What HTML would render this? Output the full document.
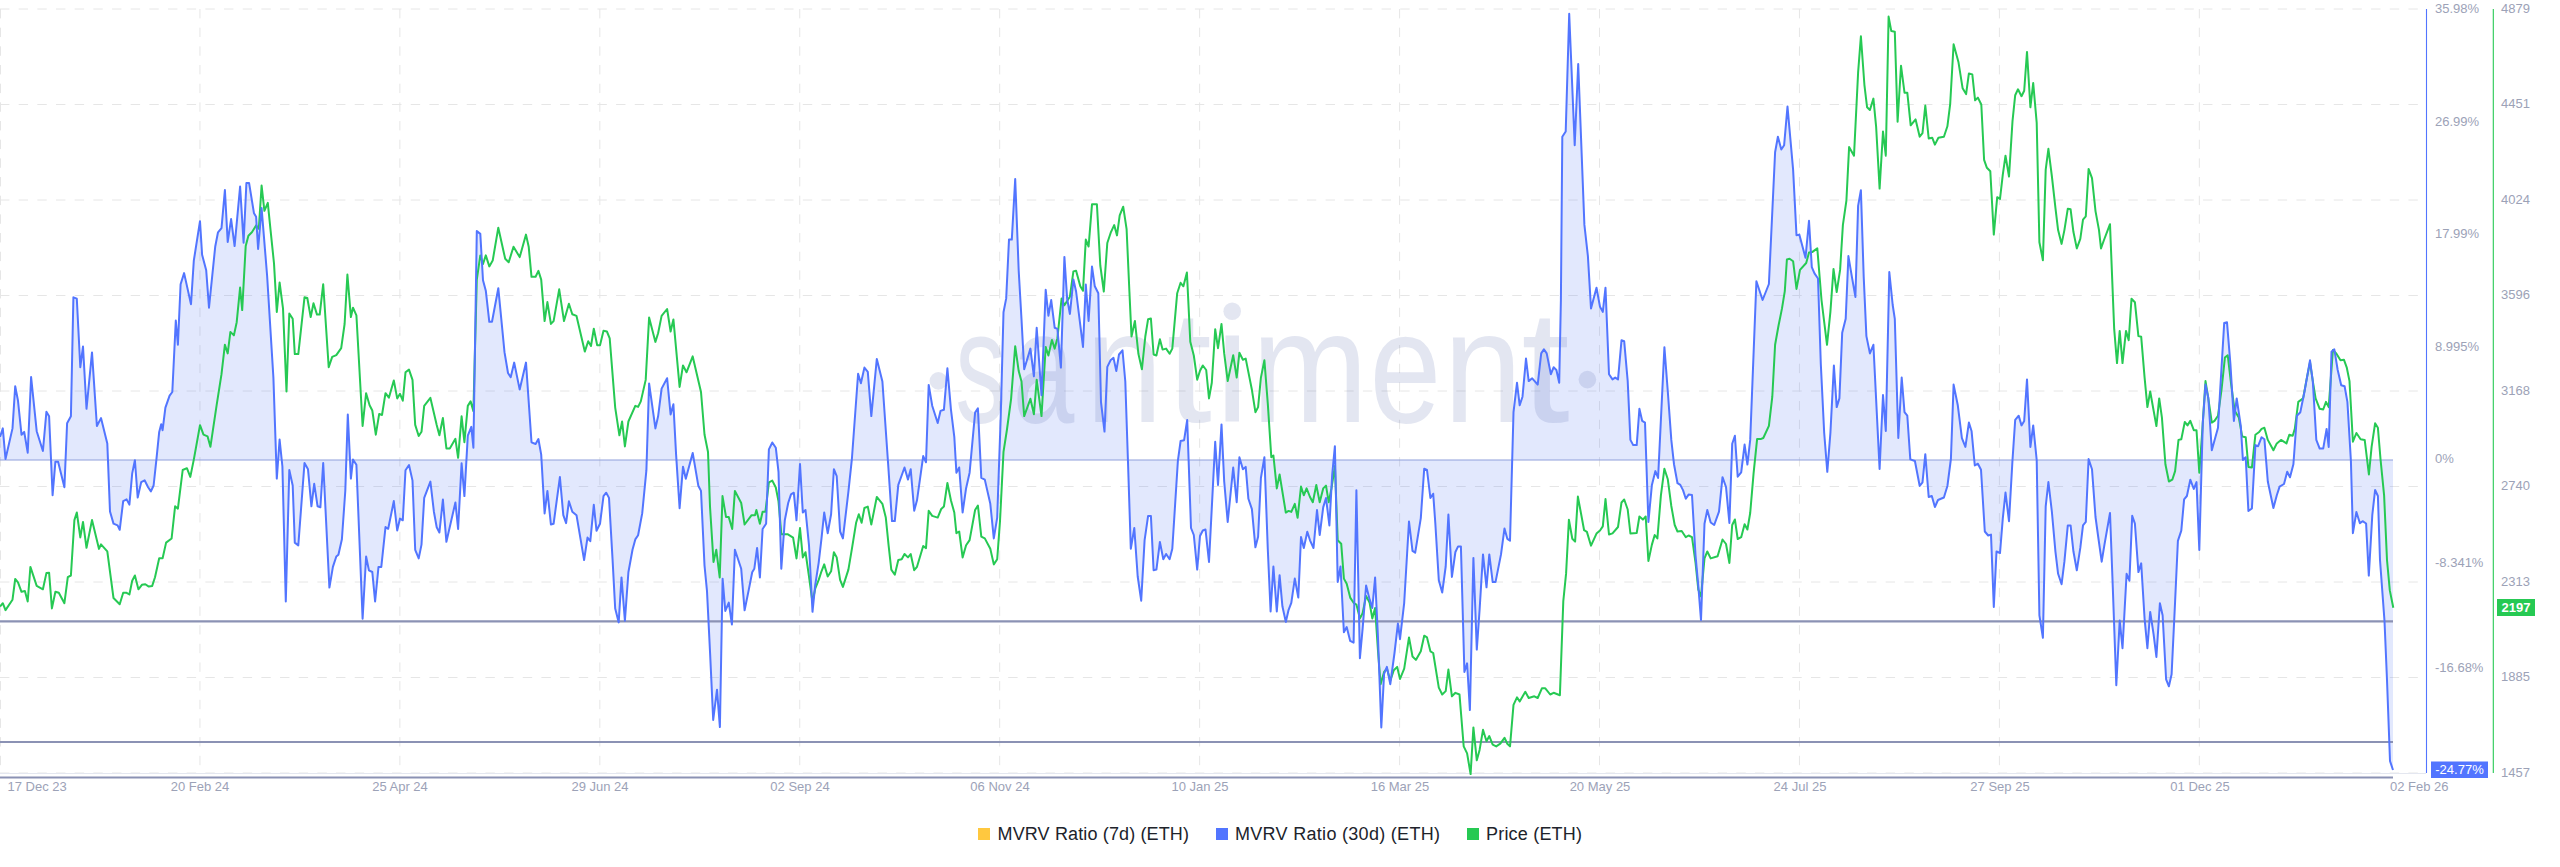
<!DOCTYPE html>
<html><head><meta charset="utf-8"><style>
html,body{margin:0;padding:0;background:#fff;width:2560px;height:867px;overflow:hidden}
svg{display:block}
</style></head><body>
<svg width="2560" height="867" viewBox="0 0 2560 867">
<line x1="0" y1="9.0" x2="2418" y2="9.0" stroke="#e6e6e6" stroke-width="1" stroke-dasharray="9.4 9.27"/>
<line x1="0" y1="104.5" x2="2418" y2="104.5" stroke="#e6e6e6" stroke-width="1" stroke-dasharray="9.4 9.27"/>
<line x1="0" y1="200.0" x2="2418" y2="200.0" stroke="#e6e6e6" stroke-width="1" stroke-dasharray="9.4 9.27"/>
<line x1="0" y1="295.5" x2="2418" y2="295.5" stroke="#e6e6e6" stroke-width="1" stroke-dasharray="9.4 9.27"/>
<line x1="0" y1="391.0" x2="2418" y2="391.0" stroke="#e6e6e6" stroke-width="1" stroke-dasharray="9.4 9.27"/>
<line x1="0" y1="486.5" x2="2418" y2="486.5" stroke="#e6e6e6" stroke-width="1" stroke-dasharray="9.4 9.27"/>
<line x1="0" y1="582.0" x2="2418" y2="582.0" stroke="#e6e6e6" stroke-width="1" stroke-dasharray="9.4 9.27"/>
<line x1="0" y1="677.5" x2="2418" y2="677.5" stroke="#e6e6e6" stroke-width="1" stroke-dasharray="9.4 9.27"/>
<line x1="0" y1="773.0" x2="2418" y2="773.0" stroke="#e6e6e6" stroke-width="1" stroke-dasharray="9.4 9.27"/>
<line x1="0.5" y1="9" x2="0.5" y2="773" stroke="#e6e6e6" stroke-width="1" stroke-dasharray="9.4 9.27"/>
<line x1="199.94" y1="9" x2="199.94" y2="773" stroke="#e6e6e6" stroke-width="1" stroke-dasharray="9.4 9.27"/>
<line x1="399.88" y1="9" x2="399.88" y2="773" stroke="#e6e6e6" stroke-width="1" stroke-dasharray="9.4 9.27"/>
<line x1="599.8199999999999" y1="9" x2="599.8199999999999" y2="773" stroke="#e6e6e6" stroke-width="1" stroke-dasharray="9.4 9.27"/>
<line x1="799.76" y1="9" x2="799.76" y2="773" stroke="#e6e6e6" stroke-width="1" stroke-dasharray="9.4 9.27"/>
<line x1="999.7" y1="9" x2="999.7" y2="773" stroke="#e6e6e6" stroke-width="1" stroke-dasharray="9.4 9.27"/>
<line x1="1199.6399999999999" y1="9" x2="1199.6399999999999" y2="773" stroke="#e6e6e6" stroke-width="1" stroke-dasharray="9.4 9.27"/>
<line x1="1399.58" y1="9" x2="1399.58" y2="773" stroke="#e6e6e6" stroke-width="1" stroke-dasharray="9.4 9.27"/>
<line x1="1599.52" y1="9" x2="1599.52" y2="773" stroke="#e6e6e6" stroke-width="1" stroke-dasharray="9.4 9.27"/>
<line x1="1799.46" y1="9" x2="1799.46" y2="773" stroke="#e6e6e6" stroke-width="1" stroke-dasharray="9.4 9.27"/>
<line x1="1999.4" y1="9" x2="1999.4" y2="773" stroke="#e6e6e6" stroke-width="1" stroke-dasharray="9.4 9.27"/>
<line x1="2199.34" y1="9" x2="2199.34" y2="773" stroke="#e6e6e6" stroke-width="1" stroke-dasharray="9.4 9.27"/>
<path d="M0.0,460 L0.0,437.0 L2.8,428.4 L5.5,459.0 L12.5,428.4 L15.2,386.2 L18.0,400.8 L21.5,434.7 L24.2,431.9 L27.7,452.7 L31.1,377.0 L36.7,431.2 L42.9,451.0 L46.4,411.8 L49.1,416.3 L52.6,495.2 L55.4,461.7 L58.1,461.7 L64.4,487.3 L67.1,423.3 L70.9,416.3 L73.4,297.3 L76.8,298.7 L80.3,367.2 L83.0,346.5 L86.5,408.8 L92.0,352.4 L96.9,426.0 L101.0,418.1 L107.3,443.4 L110.0,511.5 L113.5,523.6 L117.6,525.3 L119.7,529.8 L123.2,501.1 L126.6,499.4 L129.4,504.6 L132.2,473.4 L134.9,460.3 L137.7,497.6 L141.2,482.1 L144.6,480.3 L148.1,487.3 L150.9,491.4 L153.6,485.5 L156.4,459.6 L159.2,431.9 L161.2,424.3 L162.6,430.2 L165.4,407.7 L169.6,395.6 L172.3,392.0 L175.8,320.5 L177.9,344.7 L180.6,284.2 L184.1,273.1 L191.0,304.3 L193.8,260.7 L200.0,221.2 L202.1,254.8 L206.2,270.3 L209.0,307.7 L215.2,246.8 L218.0,232.3 L221.5,228.1 L224.9,190.0 L227.7,242.0 L231.1,219.1 L234.6,246.1 L240.1,186.6 L243.6,242.7 L246.4,183.1 L249.1,183.1 L254.0,213.3 L256.1,216.7 L258.1,248.9 L261.6,208.1 L267.1,275.5 L273.4,377.6 L276.8,478.6 L279.6,439.5 L282.4,466.5 L285.8,601.5 L289.3,470.0 L292.7,485.5 L294.8,542.6 L298.3,545.4 L304.5,463.0 L308.0,469.3 L311.4,506.3 L314.2,483.8 L317.6,506.3 L320.4,507.3 L323.2,463.0 L329.4,587.6 L332.9,566.9 L336.3,556.5 L338.4,554.7 L341.9,539.2 L345.3,490.7 L347.8,414.6 L350.9,478.6 L353.0,459.6 L356.4,464.8 L362.6,618.8 L366.1,556.5 L368.9,570.3 L372.3,572.0 L375.1,601.5 L378.5,566.9 L381.3,566.9 L385.5,527.1 L388.2,528.8 L393.8,501.1 L397.2,530.5 L400.0,518.6 L402.8,520.3 L405.5,470.2 L409.0,465.0 L412.5,480.6 L415.2,549.8 L418.7,558.4 L421.5,544.6 L424.2,497.9 L430.4,481.6 L433.9,511.7 L436.7,527.3 L439.4,532.5 L442.9,499.6 L446.4,541.8 L455.4,502.4 L458.1,529.0 L461.6,463.3 L464.4,496.1 L467.8,435.6 L471.3,426.9 L473.4,447.7 L476.8,231.1 L480.3,233.9 L483.0,280.3 L485.8,290.7 L489.3,321.8 L492.0,321.8 L498.3,288.2 L504.5,352.2 L508.0,373.0 L510.7,377.2 L514.2,362.6 L519.7,389.6 L526.0,362.6 L531.5,442.3 L535.6,444.0 L538.4,439.0 L541.2,454.6 L544.6,513.4 L547.4,490.9 L550.9,524.5 L553.6,523.8 L559.9,477.1 L563.3,515.2 L566.1,523.1 L568.9,501.3 L572.3,511.7 L576.5,515.2 L580.6,539.4 L584.1,560.1 L587.5,537.6 L590.3,541.1 L593.8,504.8 L596.5,530.7 L600.0,523.8 L603.5,496.1 L606.2,492.7 L609.0,497.9 L612.5,558.4 L615.2,608.6 L618.7,622.4 L621.5,577.4 L624.9,620.7 L628.4,572.2 L632.5,549.8 L635.3,539.4 L638.1,535.2 L642.2,513.4 L646.4,470.2 L649.1,383.4 L655.4,428.4 L658.1,416.3 L661.6,388.6 L667.1,378.2 L670.6,414.5 L673.4,404.2 L676.1,454.6 L679.6,508.2 L683.0,466.7 L685.8,478.8 L692.7,452.9 L698.3,485.7 L701.0,490.9 L704.5,565.3 L707.0,591.1 L710.1,653.4 L713.2,719.9 L717.0,689.7 L719.9,727.1 L722.6,578.7 L725.3,610.9 L728.8,602.6 L731.9,624.4 L734.9,549.8 L741.2,568.8 L744.6,610.3 L748.8,589.6 L752.2,572.2 L754.3,568.8 L757.1,548.0 L759.9,577.4 L762.6,529.0 L766.1,523.8 L768.9,449.4 L772.3,442.5 L775.8,447.7 L778.5,471.9 L781.3,568.8 L784.8,520.3 L788.2,503.0 L791.0,494.4 L793.8,492.7 L796.5,520.3 L800.0,464.0 L802.8,512.5 L805.5,510.0 L809.0,545.3 L812.5,611.8 L815.2,585.1 L818.7,562.6 L821.5,538.4 L824.2,512.5 L827.7,533.2 L831.1,514.2 L833.9,469.2 L836.7,476.1 L840.1,531.5 L842.9,538.4 L848.4,491.7 L851.9,458.8 L858.1,373.8 L860.9,383.2 L864.4,367.6 L867.8,371.8 L871.3,416.1 L876.8,359.0 L882.4,381.5 L888.2,465.0 L892.0,521.1 L894.8,521.1 L898.3,484.8 L904.5,467.5 L908.0,479.6 L910.7,469.2 L914.2,510.7 L917.0,500.3 L923.2,456.1 L926.0,462.3 L928.7,384.9 L932.2,405.7 L937.7,423.0 L940.5,410.9 L943.9,409.8 L947.4,368.3 L950.9,409.1 L954.3,436.8 L956.4,472.7 L959.2,467.5 L962.6,512.5 L966.1,488.2 L969.6,472.7 L975.1,412.6 L977.9,408.4 L981.3,477.9 L984.8,479.6 L990.3,503.8 L993.8,538.4 L997.2,517.6 L1000.7,417.3 L1003.5,312.2 L1006.2,298.4 L1009.0,239.6 L1011.8,239.6 L1015.2,179.0 L1018.7,270.7 L1021.5,319.2 L1024.2,369.3 L1030.4,348.6 L1033.9,376.3 L1036.7,327.8 L1041.5,395.3 L1045.7,289.8 L1048.4,315.7 L1051.2,300.1 L1054.7,327.8 L1057.4,328.9 L1060.9,367.6 L1064.4,256.9 L1067.1,298.4 L1069.9,314.0 L1073.4,279.4 L1076.1,291.5 L1083.0,346.9 L1085.8,284.6 L1088.6,320.9 L1092.0,266.6 L1094.8,286.3 L1098.3,293.2 L1101.0,402.2 L1104.5,431.6 L1107.3,366.9 L1110.7,360.0 L1113.5,357.9 L1116.3,371.1 L1119.0,354.5 L1122.5,350.3 L1125.3,381.5 L1128.0,462.3 L1130.8,548.8 L1134.3,528.0 L1137.7,576.5 L1141.2,600.7 L1144.6,540.1 L1148.1,515.9 L1150.9,515.9 L1153.6,570.2 L1156.4,569.6 L1159.9,541.9 L1163.3,559.2 L1166.1,554.0 L1169.6,559.2 L1172.3,548.8 L1177.9,460.6 L1180.6,441.0 L1184.1,440.2 L1187.2,420.0 L1191.0,528.0 L1193.8,535.0 L1197.2,569.6 L1200.0,536.0 L1202.8,530.5 L1205.5,529.5 L1209.0,562.0 L1215.2,441.7 L1218.0,484.9 L1221.5,424.4 L1224.2,481.5 L1227.7,522.0 L1233.2,467.6 L1236.7,502.2 L1239.4,457.2 L1242.9,469.3 L1245.7,466.9 L1248.4,498.8 L1251.9,509.1 L1255.4,547.3 L1258.1,536.8 L1260.9,478.0 L1264.4,457.2 L1267.8,549.2 L1270.6,611.5 L1273.4,566.5 L1276.8,611.5 L1279.6,575.2 L1282.4,606.3 L1285.8,621.9 L1288.6,609.8 L1291.3,602.8 L1294.8,578.6 L1298.3,597.6 L1301.0,537.0 L1303.8,548.0 L1307.3,531.8 L1310.0,540.3 L1313.5,548.0 L1317.0,510.0 L1319.7,535.0 L1323.2,507.4 L1326.0,498.0 L1329.4,525.5 L1332.2,474.5 L1334.9,446.2 L1337.7,582.1 L1340.5,566.5 L1343.9,632.2 L1346.7,627.1 L1350.2,640.9 L1353.6,642.6 L1356.4,490.2 L1359.9,658.2 L1362.6,628.8 L1366.1,585.5 L1369.6,599.4 L1372.3,608.0 L1375.1,577.6 L1377.9,635.7 L1381.3,727.4 L1384.1,673.8 L1386.9,666.9 L1390.3,684.2 L1394.5,653.0 L1397.9,623.6 L1400.0,639.2 L1404.2,602.8 L1409.0,521.5 L1412.5,550.9 L1415.2,552.7 L1420.8,518.1 L1424.2,468.7 L1427.0,470.0 L1430.4,498.0 L1433.2,493.7 L1435.3,523.0 L1438.8,580.3 L1442.2,592.5 L1445.7,566.5 L1448.4,514.6 L1451.9,576.9 L1455.4,552.0 L1458.1,546.4 L1460.9,546.4 L1464.4,672.0 L1467.1,663.4 L1469.9,710.1 L1473.4,557.9 L1476.8,649.6 L1479.6,609.8 L1483.0,554.4 L1486.5,587.3 L1489.3,554.4 L1492.7,582.1 L1495.5,582.1 L1501.0,554.4 L1504.5,528.4 L1507.3,538.8 L1510.0,540.6 L1513.5,412.2 L1517.0,382.8 L1519.7,405.3 L1522.5,396.7 L1526.0,358.6 L1528.7,381.1 L1532.2,378.3 L1537.7,384.6 L1541.2,353.4 L1543.9,349.3 L1546.7,353.4 L1550.9,374.2 L1553.6,367.3 L1556.4,370.0 L1559.2,382.8 L1560.9,300.0 L1562.3,136.7 L1565.7,131.5 L1569.2,13.8 L1574.7,145.3 L1578.2,64.0 L1584.4,224.9 L1587.9,256.1 L1591.0,308.4 L1596.5,287.7 L1600.0,306.7 L1602.8,311.9 L1605.5,287.7 L1609.0,374.2 L1612.5,379.4 L1615.2,377.6 L1618.0,379.4 L1621.5,340.3 L1624.2,341.3 L1627.7,381.1 L1630.4,439.9 L1633.2,445.1 L1636.7,445.1 L1639.4,408.8 L1642.2,420.9 L1645.0,422.6 L1648.4,521.9 L1651.9,484.9 L1655.4,471.1 L1658.1,478.0 L1664.4,347.2 L1667.8,391.5 L1671.3,439.9 L1674.0,464.2 L1677.5,483.2 L1680.3,484.9 L1683.0,490.1 L1685.8,498.8 L1688.6,494.6 L1692.0,495.0 L1695.5,555.0 L1698.3,586.0 L1701.0,620.0 L1704.5,523.8 L1707.3,510.0 L1710.7,522.5 L1714.2,525.0 L1719.0,511.7 L1722.5,477.2 L1726.0,487.0 L1729.4,523.0 L1732.2,443.8 L1734.9,435.7 L1737.7,476.7 L1741.2,472.3 L1744.6,444.6 L1747.4,464.6 L1750.2,439.9 L1756.4,281.2 L1762.6,300.0 L1768.9,284.0 L1775.1,152.2 L1777.9,136.7 L1781.3,149.5 L1784.1,145.3 L1787.5,106.6 L1793.1,169.6 L1796.5,235.3 L1799.3,234.6 L1805.5,257.8 L1809.0,220.8 L1811.8,267.1 L1814.5,273.4 L1818.0,278.5 L1820.8,363.8 L1824.2,433.0 L1827.3,471.8 L1830.4,433.0 L1833.9,365.5 L1836.7,407.1 L1839.4,398.4 L1842.2,332.7 L1845.7,318.8 L1848.4,256.1 L1851.9,276.8 L1855.4,296.9 L1858.1,205.9 L1860.9,190.3 L1863.7,276.8 L1866.4,336.1 L1869.9,353.4 L1873.4,344.8 L1879.6,469.0 L1883.0,395.0 L1885.8,431.0 L1889.3,272.0 L1892.7,305.0 L1894.8,318.8 L1898.3,438.0 L1901.7,377.6 L1904.5,412.2 L1907.3,415.7 L1910.3,459.4 L1914.9,461.0 L1919.7,486.0 L1922.5,482.4 L1925.3,454.2 L1928.7,497.0 L1931.8,496.0 L1934.9,507.0 L1938.0,500.0 L1943.9,497.5 L1947.4,486.0 L1950.9,459.0 L1953.6,384.6 L1957.8,405.3 L1961.9,438.2 L1965.4,446.9 L1968.9,422.6 L1971.6,431.3 L1974.8,465.5 L1977.9,463.7 L1981.0,469.8 L1984.8,531.5 L1988.2,535.5 L1991.0,534.6 L1993.8,606.9 L1996.5,551.5 L2000.0,553.0 L2002.8,518.4 L2005.5,492.5 L2009.0,521.2 L2012.5,460.0 L2015.2,419.9 L2018.7,415.7 L2021.5,425.4 L2024.2,420.9 L2027.0,379.4 L2030.4,446.9 L2033.2,425.4 L2036.7,460.0 L2039.4,615.3 L2042.9,637.8 L2045.7,506.3 L2048.4,482.0 L2051.9,512.0 L2055.4,551.3 L2058.1,573.8 L2061.6,584.2 L2064.4,561.7 L2067.8,525.4 L2070.6,525.4 L2073.4,551.3 L2076.8,570.3 L2080.3,547.9 L2083.0,525.4 L2085.8,521.9 L2088.6,459.0 L2092.0,469.3 L2095.5,517.0 L2098.3,537.5 L2101.7,561.7 L2104.5,544.4 L2110.0,513.0 L2112.8,587.6 L2116.3,685.2 L2119.7,620.5 L2122.5,648.2 L2126.6,573.8 L2129.4,580.7 L2132.2,515.7 L2134.9,523.6 L2138.4,572.1 L2141.2,563.4 L2144.6,618.8 L2147.4,648.2 L2150.2,611.9 L2153.6,634.4 L2156.4,656.9 L2159.9,603.2 L2162.6,615.3 L2166.1,679.3 L2168.9,686.3 L2171.6,674.2 L2175.1,601.5 L2177.9,540.9 L2181.3,530.6 L2184.1,499.4 L2186.9,496.0 L2190.3,479.7 L2193.8,489.0 L2196.5,482.1 L2199.3,550.0 L2202.8,422.6 L2205.5,384.6 L2208.3,397.7 L2211.8,450.3 L2218.0,427.8 L2220.1,391.5 L2224.2,323.0 L2227.0,322.3 L2230.4,363.8 L2233.9,420.9 L2236.7,398.4 L2240.8,426.1 L2242.9,460.0 L2245.7,457.2 L2248.4,511.0 L2251.9,508.5 L2255.4,445.1 L2258.1,446.2 L2261.6,437.2 L2264.4,439.2 L2267.8,481.5 L2273.4,508.0 L2276.8,495.3 L2279.6,486.6 L2284.0,484.0 L2287.2,471.8 L2290.0,477.3 L2293.4,464.2 L2296.9,415.7 L2300.3,412.2 L2304.5,391.5 L2310.0,360.3 L2312.8,381.1 L2316.3,439.9 L2319.7,448.6 L2323.2,448.6 L2326.6,428.9 L2328.7,446.9 L2331.5,351.7 L2334.3,349.3 L2337.7,370.0 L2341.2,385.3 L2344.6,386.3 L2347.4,401.9 L2350.9,460.7 L2352.9,533.2 L2356.4,512.0 L2359.9,523.3 L2362.6,521.2 L2366.1,523.5 L2368.8,575.6 L2372.3,515.0 L2375.1,490.0 L2377.9,496.0 L2380.0,560.0 L2384.5,621.0 L2387.0,680.0 L2390.0,761.0 L2393.0,770.0 L2393.0,460 Z" fill="rgba(75,110,240,0.16)" stroke="none"/>
<text transform="translate(955.17,421.5) scale(0.6371,1)" x="0" y="0" style="font-family:'Liberation Sans',sans-serif;font-size:160.0px;fill:rgba(70,85,160,0.15)">s</text>
<text transform="translate(1012.64,421.5) scale(0.6925,1)" x="0" y="0" style="font-family:'Liberation Sans',sans-serif;font-size:160.0px;fill:rgba(70,85,160,0.15)">a</text>
<text transform="translate(1085.67,421.5) scale(0.8637,1)" x="0" y="0" style="font-family:'Liberation Sans',sans-serif;font-size:160.0px;fill:rgba(70,85,160,0.15)">n</text>
<text transform="translate(1166.50,421.5) scale(1.0188,1)" x="0" y="0" style="font-family:'Liberation Sans',sans-serif;font-size:160.0px;fill:rgba(70,85,160,0.15)">t</text>
<rect x="1225.5" y="335.5" width="13.5" height="86" fill="rgba(70,85,160,0.15)"/>
<circle cx="1232.2" cy="311.2" r="8.8" fill="rgba(70,85,160,0.15)"/>
<text transform="translate(1251.87,421.5) scale(0.8731,1)" x="0" y="0" style="font-family:'Liberation Sans',sans-serif;font-size:160.0px;fill:rgba(70,85,160,0.15)">m</text>
<text transform="translate(1369.46,421.5) scale(0.8070,1)" x="0" y="0" style="font-family:'Liberation Sans',sans-serif;font-size:160.0px;fill:rgba(70,85,160,0.15)">e</text>
<text transform="translate(1443.43,421.5) scale(0.8859,1)" x="0" y="0" style="font-family:'Liberation Sans',sans-serif;font-size:160.0px;fill:rgba(70,85,160,0.15)">n</text>
<text transform="translate(1521.26,421.5) scale(1.0915,1)" x="0" y="0" style="font-family:'Liberation Sans',sans-serif;font-size:160.0px;fill:rgba(70,85,160,0.15)">t</text>
<circle cx="938.4" cy="380.9" r="8.8" fill="rgba(70,85,160,0.15)"/><circle cx="1587.4" cy="379.6" r="8.8" fill="rgba(70,85,160,0.15)"/>
<line x1="0" y1="460" x2="2393" y2="460" stroke="#8fa0dc" stroke-width="1.2"/>
<line x1="0" y1="621.3" x2="2393" y2="621.3" stroke="#8b92b4" stroke-width="2.2"/>
<line x1="0" y1="742" x2="2393" y2="742" stroke="#8b92b4" stroke-width="2.2"/>
<line x1="0" y1="777.5" x2="2393" y2="777.5" stroke="#8b92b4" stroke-width="2.2"/>
<line x1="0" y1="773.5" x2="2426" y2="773.5" stroke="#e4e7f0" stroke-width="1"/>
<path d="M0.0,606.6 L2.8,603.2 L5.5,610.1 L12.5,599.7 L15.2,579.0 L18.0,582.4 L21.5,591.8 L24.9,591.1 L27.7,601.5 L30.4,566.9 L36.7,585.9 L42.9,589.3 L46.4,573.1 L49.1,572.7 L51.9,608.4 L55.4,591.8 L58.8,592.8 L64.4,603.2 L67.8,577.2 L70.9,575.5 L74.4,520.1 L76.8,512.5 L80.3,537.4 L83.0,521.9 L86.5,547.8 L92.0,520.1 L99.0,548.9 L101.0,544.4 L107.3,551.3 L113.5,598.0 L119.7,604.2 L123.2,592.8 L126.6,592.8 L129.4,594.5 L132.2,580.7 L134.9,575.5 L138.4,589.3 L141.9,584.8 L145.3,584.2 L148.8,586.6 L152.2,585.9 L155.0,577.2 L159.2,558.2 L162.6,558.2 L166.1,542.6 L171.6,538.5 L175.1,506.3 L177.9,508.7 L182.7,470.0 L186.9,468.2 L190.3,476.9 L193.8,459.6 L200.0,425.2 L203.5,434.7 L207.6,436.4 L210.4,446.8 L216.6,405.3 L221.5,374.2 L224.9,344.7 L227.7,353.4 L230.4,331.9 L233.9,335.4 L236.7,322.2 L240.1,287.6 L242.2,310.1 L245.7,246.1 L248.4,235.7 L251.9,232.3 L256.1,225.4 L258.8,228.8 L261.6,185.6 L264.4,210.8 L267.8,202.9 L270.6,230.6 L274.0,263.4 L276.8,311.9 L279.6,282.5 L283.0,308.4 L286.5,391.5 L289.3,313.6 L292.7,318.8 L294.8,354.1 L298.3,354.1 L304.5,297.3 L307.3,298.0 L310.7,317.1 L313.5,303.2 L317.0,314.6 L319.7,314.6 L323.2,284.2 L328.7,367.2 L332.2,356.9 L336.3,355.1 L341.2,348.2 L344.6,324.0 L347.4,274.5 L350.9,317.1 L353.0,307.7 L356.4,315.3 L362.6,426.0 L366.1,393.2 L369.6,405.3 L372.3,410.5 L375.8,434.7 L379.2,413.9 L382.0,415.0 L385.5,393.2 L388.9,397.7 L393.8,380.4 L397.2,398.4 L400.0,393.8 L402.8,400.7 L405.5,372.3 L409.0,369.6 L412.5,379.9 L415.2,424.9 L418.7,436.0 L421.5,431.8 L424.2,405.9 L430.4,397.9 L436.7,424.9 L439.4,435.3 L442.9,418.0 L446.4,448.4 L449.8,448.4 L455.4,438.8 L458.1,457.8 L461.6,416.3 L464.4,442.2 L467.8,405.9 L470.6,401.4 L473.4,411.1 L476.8,279.6 L480.3,255.4 L483.0,264.0 L485.8,255.4 L489.3,266.4 L492.7,260.6 L498.3,227.7 L505.2,258.8 L508.7,262.3 L513.5,246.7 L519.7,257.1 L526.0,234.6 L528.7,246.7 L531.5,276.8 L535.6,276.8 L538.4,270.9 L541.2,279.6 L544.6,321.1 L547.4,302.1 L550.9,323.9 L553.6,321.1 L559.2,289.3 L564.0,321.1 L568.9,303.8 L572.3,314.2 L576.5,315.9 L584.8,351.6 L588.2,341.2 L591.0,346.0 L593.8,328.7 L597.2,345.3 L600.0,345.3 L603.5,330.8 L606.9,331.5 L609.7,338.4 L615.2,407.6 L619.4,435.3 L622.1,421.5 L624.9,446.4 L628.4,421.5 L635.3,405.9 L638.1,406.9 L640.8,401.4 L645.7,379.9 L649.1,317.6 L655.4,341.9 L658.1,333.2 L661.6,315.9 L667.1,309.0 L670.6,331.5 L673.4,319.4 L679.6,386.9 L683.0,365.4 L686.5,372.3 L692.7,356.4 L701.0,392.0 L704.5,434.5 L708.0,452.0 L710.0,506.5 L713.5,561.9 L716.3,549.8 L719.7,577.4 L722.5,496.1 L726.0,516.9 L728.7,516.9 L732.2,529.0 L734.9,490.9 L741.2,503.0 L744.6,524.5 L751.6,515.2 L755.0,515.2 L756.4,510.0 L759.9,523.8 L762.6,511.7 L765.4,511.7 L768.9,482.3 L772.3,480.6 L775.8,487.5 L778.5,501.3 L781.3,534.2 L787.5,534.2 L793.1,537.6 L796.5,558.4 L800.0,528.0 L802.8,557.4 L805.5,552.2 L809.0,576.5 L812.5,602.4 L815.2,588.6 L818.7,579.9 L821.5,571.3 L824.2,564.4 L827.7,576.5 L831.1,571.3 L833.9,552.2 L836.7,557.4 L840.1,579.9 L842.9,586.9 L848.4,569.6 L851.9,548.8 L856.1,522.8 L858.8,514.2 L861.6,522.8 L864.4,508.0 L867.8,506.6 L871.3,524.6 L876.8,496.9 L882.4,503.8 L885.8,517.6 L888.6,545.3 L891.3,569.6 L894.8,574.7 L898.3,559.9 L901.7,559.2 L904.5,554.0 L908.0,557.4 L910.7,554.0 L914.2,570.2 L917.0,566.8 L923.2,546.0 L926.0,548.1 L928.7,510.7 L932.2,515.9 L937.7,517.6 L941.2,509.0 L943.9,506.6 L947.4,483.0 L950.9,500.3 L954.3,512.5 L956.4,533.2 L959.2,531.5 L962.6,557.4 L966.1,545.3 L969.6,540.1 L975.1,510.0 L977.9,505.5 L981.3,536.7 L984.8,538.4 L990.3,548.8 L993.8,564.4 L997.2,559.2 L1000.0,521.1 L1003.5,451.9 L1006.9,430.0 L1011.1,398.8 L1015.2,346.2 L1018.7,371.1 L1021.5,381.5 L1024.2,416.1 L1030.4,398.8 L1033.9,414.3 L1036.7,379.7 L1041.5,416.1 L1045.7,346.9 L1048.4,355.5 L1051.9,339.9 L1054.7,348.6 L1057.4,338.2 L1061.6,298.4 L1064.4,305.3 L1069.9,296.7 L1073.4,271.4 L1076.1,270.7 L1080.3,286.3 L1083.0,290.8 L1085.8,239.6 L1088.6,246.5 L1092.0,204.3 L1096.9,204.3 L1100.3,265.5 L1103.8,291.5 L1107.3,243.0 L1110.7,232.7 L1114.2,225.1 L1117.0,235.4 L1119.7,215.4 L1123.2,206.7 L1126.6,229.2 L1129.4,291.5 L1131.5,336.5 L1134.9,320.9 L1138.4,353.8 L1141.9,369.3 L1145.3,336.5 L1148.1,319.2 L1150.9,318.5 L1153.6,354.5 L1156.4,355.5 L1159.9,339.2 L1162.6,349.6 L1166.1,348.6 L1169.6,353.8 L1172.3,348.6 L1177.2,293.2 L1180.6,282.8 L1183.4,286.3 L1186.9,272.5 L1190.3,341.7 L1193.8,355.5 L1197.2,379.7 L1200.0,370.7 L1202.8,365.5 L1206.2,370.0 L1209.0,398.4 L1211.8,382.8 L1215.2,329.2 L1218.0,348.2 L1221.5,324.0 L1224.2,353.4 L1227.7,381.1 L1233.2,355.2 L1236.7,377.6 L1239.4,352.7 L1242.9,359.7 L1245.7,358.6 L1251.9,389.8 L1255.4,412.2 L1258.1,407.1 L1260.9,377.6 L1264.4,360.3 L1267.8,403.6 L1271.3,457.2 L1273.4,455.5 L1276.8,488.4 L1279.6,474.5 L1285.8,512.6 L1288.6,510.9 L1291.3,511.9 L1294.8,503.9 L1297.6,517.8 L1301.0,486.6 L1303.8,495.3 L1306.6,488.4 L1310.0,497.0 L1312.8,502.2 L1316.3,484.9 L1319.7,502.2 L1323.2,488.4 L1326.0,485.6 L1328.7,502.2 L1331.5,488.4 L1334.9,465.9 L1337.7,540.3 L1341.2,543.7 L1343.9,578.6 L1346.7,583.8 L1350.2,597.6 L1353.6,602.8 L1356.4,604.6 L1359.9,618.4 L1362.6,613.2 L1366.1,595.9 L1369.6,602.8 L1372.3,618.4 L1375.1,608.0 L1377.9,649.6 L1380.6,684.2 L1384.1,672.0 L1386.9,668.6 L1390.3,680.7 L1393.8,670.3 L1397.2,666.9 L1400.0,679.0 L1404.2,668.6 L1409.0,637.4 L1412.5,656.5 L1415.9,659.9 L1420.8,651.3 L1424.2,635.7 L1427.0,637.4 L1430.4,651.3 L1433.2,653.0 L1438.8,687.6 L1442.2,694.5 L1445.7,691.1 L1448.4,669.6 L1451.9,696.3 L1455.4,692.8 L1459.5,694.5 L1463.7,746.4 L1467.1,753.4 L1470.6,774.1 L1473.4,727.4 L1476.8,760.3 L1479.6,749.9 L1483.0,729.8 L1486.5,741.2 L1489.3,736.1 L1492.7,744.7 L1496.2,746.4 L1500.3,743.7 L1504.5,737.8 L1507.3,743.7 L1510.0,746.4 L1513.5,704.9 L1517.0,697.3 L1519.7,701.5 L1525.3,691.8 L1528.7,698.0 L1534.3,696.3 L1537.7,698.0 L1541.9,688.3 L1545.3,688.3 L1550.2,694.5 L1553.6,692.8 L1559.9,695.2 L1563.3,601.1 L1566.1,573.4 L1568.9,519.8 L1572.3,538.8 L1575.1,541.6 L1577.9,496.6 L1584.1,530.2 L1586.9,531.9 L1591.0,545.7 L1596.5,533.6 L1600.0,530.5 L1602.8,526.4 L1605.5,499.0 L1609.0,534.5 L1612.5,533.4 L1618.0,527.0 L1621.5,502.5 L1624.2,499.5 L1627.7,509.5 L1630.4,533.4 L1636.7,533.0 L1639.4,516.5 L1642.9,519.6 L1645.7,516.5 L1648.4,561.0 L1651.9,544.6 L1654.7,535.0 L1657.4,538.4 L1660.9,495.3 L1664.4,468.7 L1667.8,479.3 L1671.3,506.0 L1674.7,525.0 L1677.5,531.5 L1681.7,531.0 L1685.8,537.2 L1688.6,535.5 L1692.0,537.2 L1695.5,562.5 L1698.3,589.6 L1701.0,596.5 L1704.5,558.4 L1707.3,551.5 L1710.7,558.4 L1717.6,556.2 L1722.5,539.5 L1726.0,544.0 L1729.4,563.0 L1732.2,525.0 L1734.9,519.5 L1737.7,539.0 L1741.2,537.2 L1744.6,524.2 L1747.4,529.5 L1750.2,513.0 L1753.6,473.2 L1757.1,439.1 L1760.6,439.1 L1763.3,438.0 L1768.9,425.8 L1772.3,396.7 L1775.1,344.8 L1778.5,325.7 L1782.0,308.4 L1784.8,291.1 L1786.9,259.5 L1789.6,258.8 L1793.1,261.2 L1796.5,288.9 L1800.0,269.9 L1806.2,263.0 L1809.0,252.6 L1812.5,251.9 L1817.3,248.4 L1821.5,300.0 L1827.0,344.8 L1830.4,311.9 L1833.5,269.0 L1836.7,292.0 L1840.1,269.9 L1842.9,224.9 L1846.4,200.7 L1849.1,147.1 L1854.0,155.7 L1858.1,72.7 L1860.9,36.3 L1864.4,84.8 L1867.1,107.3 L1869.9,110.0 L1873.4,98.6 L1876.1,126.3 L1879.6,188.6 L1883.0,131.5 L1885.8,155.7 L1888.6,16.6 L1891.3,31.1 L1894.8,31.8 L1897.6,121.8 L1901.0,65.7 L1904.5,92.7 L1907.3,92.7 L1910.7,125.3 L1915.6,119.4 L1919.7,136.7 L1922.5,133.2 L1925.3,105.5 L1928.7,138.4 L1932.2,137.7 L1934.9,144.6 L1938.4,137.7 L1943.9,136.7 L1947.4,126.3 L1950.2,103.8 L1953.6,44.3 L1958.5,62.3 L1962.6,88.2 L1966.1,94.1 L1968.9,73.4 L1972.3,74.4 L1975.1,100.3 L1977.9,97.6 L1981.3,104.5 L1984.1,159.9 L1986.9,167.8 L1990.3,171.3 L1993.8,234.6 L1997.2,197.2 L2000.0,199.0 L2002.8,174.7 L2005.5,155.7 L2009.0,176.5 L2012.5,121.1 L2015.2,95.2 L2018.0,89.3 L2021.5,96.2 L2024.2,90.7 L2027.0,51.9 L2030.4,107.3 L2033.2,83.0 L2036.7,122.8 L2039.4,242.2 L2042.9,260.2 L2045.7,169.6 L2048.4,148.8 L2051.9,176.5 L2055.4,207.6 L2058.1,230.1 L2061.6,243.9 L2064.4,230.1 L2067.8,208.7 L2070.6,209.3 L2073.4,231.8 L2076.8,248.4 L2080.3,238.8 L2083.0,219.7 L2085.8,216.3 L2088.6,168.9 L2092.0,178.2 L2095.5,211.1 L2099.0,230.1 L2101.0,248.4 L2103.8,240.5 L2110.0,224.2 L2114.2,329.2 L2117.0,363.1 L2119.7,330.9 L2122.5,363.1 L2126.0,330.9 L2128.7,340.3 L2131.5,298.8 L2134.9,302.2 L2138.4,336.1 L2141.2,336.8 L2144.6,377.6 L2147.4,407.1 L2150.2,391.5 L2156.4,426.1 L2159.2,398.4 L2161.9,417.4 L2165.4,464.2 L2168.9,481.5 L2172.3,479.7 L2175.1,471.1 L2178.5,439.9 L2181.3,439.2 L2184.8,421.9 L2187.5,425.4 L2190.3,420.9 L2193.8,430.2 L2196.5,430.2 L2199.3,472.8 L2202.1,433.0 L2205.5,381.1 L2208.3,398.4 L2211.8,422.6 L2214.5,420.9 L2218.0,415.7 L2221.5,389.8 L2224.9,357.6 L2227.7,355.2 L2231.1,383.9 L2234.6,410.5 L2238.8,417.4 L2242.2,436.5 L2245.7,437.2 L2248.4,466.9 L2251.9,467.6 L2255.4,434.7 L2258.8,432.3 L2261.6,428.9 L2264.4,427.8 L2267.8,439.9 L2273.4,450.3 L2276.8,443.4 L2281.0,439.9 L2286.5,443.4 L2289.3,434.7 L2292.7,435.8 L2294.8,428.9 L2298.3,401.9 L2303.1,398.4 L2306.6,379.4 L2310.0,362.1 L2312.8,381.1 L2315.6,398.4 L2319.7,408.8 L2323.2,409.5 L2326.0,401.9 L2328.7,407.1 L2332.9,350.0 L2336.3,353.4 L2340.5,360.3 L2343.9,359.7 L2346.7,367.3 L2349.5,381.1 L2352.9,441.7 L2356.4,433.0 L2360.6,439.2 L2364.7,439.9 L2368.9,474.5 L2371.6,446.9 L2375.1,423.3 L2377.9,427.8 L2380.6,460.0 L2384.1,495.3 L2387.0,560.0 L2389.8,590.4 L2393.3,607.8" fill="none" stroke="#26c953" stroke-width="2" stroke-linejoin="round"/>
<path d="M0.0,437.0 L2.8,428.4 L5.5,459.0 L12.5,428.4 L15.2,386.2 L18.0,400.8 L21.5,434.7 L24.2,431.9 L27.7,452.7 L31.1,377.0 L36.7,431.2 L42.9,451.0 L46.4,411.8 L49.1,416.3 L52.6,495.2 L55.4,461.7 L58.1,461.7 L64.4,487.3 L67.1,423.3 L70.9,416.3 L73.4,297.3 L76.8,298.7 L80.3,367.2 L83.0,346.5 L86.5,408.8 L92.0,352.4 L96.9,426.0 L101.0,418.1 L107.3,443.4 L110.0,511.5 L113.5,523.6 L117.6,525.3 L119.7,529.8 L123.2,501.1 L126.6,499.4 L129.4,504.6 L132.2,473.4 L134.9,460.3 L137.7,497.6 L141.2,482.1 L144.6,480.3 L148.1,487.3 L150.9,491.4 L153.6,485.5 L156.4,459.6 L159.2,431.9 L161.2,424.3 L162.6,430.2 L165.4,407.7 L169.6,395.6 L172.3,392.0 L175.8,320.5 L177.9,344.7 L180.6,284.2 L184.1,273.1 L191.0,304.3 L193.8,260.7 L200.0,221.2 L202.1,254.8 L206.2,270.3 L209.0,307.7 L215.2,246.8 L218.0,232.3 L221.5,228.1 L224.9,190.0 L227.7,242.0 L231.1,219.1 L234.6,246.1 L240.1,186.6 L243.6,242.7 L246.4,183.1 L249.1,183.1 L254.0,213.3 L256.1,216.7 L258.1,248.9 L261.6,208.1 L267.1,275.5 L273.4,377.6 L276.8,478.6 L279.6,439.5 L282.4,466.5 L285.8,601.5 L289.3,470.0 L292.7,485.5 L294.8,542.6 L298.3,545.4 L304.5,463.0 L308.0,469.3 L311.4,506.3 L314.2,483.8 L317.6,506.3 L320.4,507.3 L323.2,463.0 L329.4,587.6 L332.9,566.9 L336.3,556.5 L338.4,554.7 L341.9,539.2 L345.3,490.7 L347.8,414.6 L350.9,478.6 L353.0,459.6 L356.4,464.8 L362.6,618.8 L366.1,556.5 L368.9,570.3 L372.3,572.0 L375.1,601.5 L378.5,566.9 L381.3,566.9 L385.5,527.1 L388.2,528.8 L393.8,501.1 L397.2,530.5 L400.0,518.6 L402.8,520.3 L405.5,470.2 L409.0,465.0 L412.5,480.6 L415.2,549.8 L418.7,558.4 L421.5,544.6 L424.2,497.9 L430.4,481.6 L433.9,511.7 L436.7,527.3 L439.4,532.5 L442.9,499.6 L446.4,541.8 L455.4,502.4 L458.1,529.0 L461.6,463.3 L464.4,496.1 L467.8,435.6 L471.3,426.9 L473.4,447.7 L476.8,231.1 L480.3,233.9 L483.0,280.3 L485.8,290.7 L489.3,321.8 L492.0,321.8 L498.3,288.2 L504.5,352.2 L508.0,373.0 L510.7,377.2 L514.2,362.6 L519.7,389.6 L526.0,362.6 L531.5,442.3 L535.6,444.0 L538.4,439.0 L541.2,454.6 L544.6,513.4 L547.4,490.9 L550.9,524.5 L553.6,523.8 L559.9,477.1 L563.3,515.2 L566.1,523.1 L568.9,501.3 L572.3,511.7 L576.5,515.2 L580.6,539.4 L584.1,560.1 L587.5,537.6 L590.3,541.1 L593.8,504.8 L596.5,530.7 L600.0,523.8 L603.5,496.1 L606.2,492.7 L609.0,497.9 L612.5,558.4 L615.2,608.6 L618.7,622.4 L621.5,577.4 L624.9,620.7 L628.4,572.2 L632.5,549.8 L635.3,539.4 L638.1,535.2 L642.2,513.4 L646.4,470.2 L649.1,383.4 L655.4,428.4 L658.1,416.3 L661.6,388.6 L667.1,378.2 L670.6,414.5 L673.4,404.2 L676.1,454.6 L679.6,508.2 L683.0,466.7 L685.8,478.8 L692.7,452.9 L698.3,485.7 L701.0,490.9 L704.5,565.3 L707.0,591.1 L710.1,653.4 L713.2,719.9 L717.0,689.7 L719.9,727.1 L722.6,578.7 L725.3,610.9 L728.8,602.6 L731.9,624.4 L734.9,549.8 L741.2,568.8 L744.6,610.3 L748.8,589.6 L752.2,572.2 L754.3,568.8 L757.1,548.0 L759.9,577.4 L762.6,529.0 L766.1,523.8 L768.9,449.4 L772.3,442.5 L775.8,447.7 L778.5,471.9 L781.3,568.8 L784.8,520.3 L788.2,503.0 L791.0,494.4 L793.8,492.7 L796.5,520.3 L800.0,464.0 L802.8,512.5 L805.5,510.0 L809.0,545.3 L812.5,611.8 L815.2,585.1 L818.7,562.6 L821.5,538.4 L824.2,512.5 L827.7,533.2 L831.1,514.2 L833.9,469.2 L836.7,476.1 L840.1,531.5 L842.9,538.4 L848.4,491.7 L851.9,458.8 L858.1,373.8 L860.9,383.2 L864.4,367.6 L867.8,371.8 L871.3,416.1 L876.8,359.0 L882.4,381.5 L888.2,465.0 L892.0,521.1 L894.8,521.1 L898.3,484.8 L904.5,467.5 L908.0,479.6 L910.7,469.2 L914.2,510.7 L917.0,500.3 L923.2,456.1 L926.0,462.3 L928.7,384.9 L932.2,405.7 L937.7,423.0 L940.5,410.9 L943.9,409.8 L947.4,368.3 L950.9,409.1 L954.3,436.8 L956.4,472.7 L959.2,467.5 L962.6,512.5 L966.1,488.2 L969.6,472.7 L975.1,412.6 L977.9,408.4 L981.3,477.9 L984.8,479.6 L990.3,503.8 L993.8,538.4 L997.2,517.6 L1000.7,417.3 L1003.5,312.2 L1006.2,298.4 L1009.0,239.6 L1011.8,239.6 L1015.2,179.0 L1018.7,270.7 L1021.5,319.2 L1024.2,369.3 L1030.4,348.6 L1033.9,376.3 L1036.7,327.8 L1041.5,395.3 L1045.7,289.8 L1048.4,315.7 L1051.2,300.1 L1054.7,327.8 L1057.4,328.9 L1060.9,367.6 L1064.4,256.9 L1067.1,298.4 L1069.9,314.0 L1073.4,279.4 L1076.1,291.5 L1083.0,346.9 L1085.8,284.6 L1088.6,320.9 L1092.0,266.6 L1094.8,286.3 L1098.3,293.2 L1101.0,402.2 L1104.5,431.6 L1107.3,366.9 L1110.7,360.0 L1113.5,357.9 L1116.3,371.1 L1119.0,354.5 L1122.5,350.3 L1125.3,381.5 L1128.0,462.3 L1130.8,548.8 L1134.3,528.0 L1137.7,576.5 L1141.2,600.7 L1144.6,540.1 L1148.1,515.9 L1150.9,515.9 L1153.6,570.2 L1156.4,569.6 L1159.9,541.9 L1163.3,559.2 L1166.1,554.0 L1169.6,559.2 L1172.3,548.8 L1177.9,460.6 L1180.6,441.0 L1184.1,440.2 L1187.2,420.0 L1191.0,528.0 L1193.8,535.0 L1197.2,569.6 L1200.0,536.0 L1202.8,530.5 L1205.5,529.5 L1209.0,562.0 L1215.2,441.7 L1218.0,484.9 L1221.5,424.4 L1224.2,481.5 L1227.7,522.0 L1233.2,467.6 L1236.7,502.2 L1239.4,457.2 L1242.9,469.3 L1245.7,466.9 L1248.4,498.8 L1251.9,509.1 L1255.4,547.3 L1258.1,536.8 L1260.9,478.0 L1264.4,457.2 L1267.8,549.2 L1270.6,611.5 L1273.4,566.5 L1276.8,611.5 L1279.6,575.2 L1282.4,606.3 L1285.8,621.9 L1288.6,609.8 L1291.3,602.8 L1294.8,578.6 L1298.3,597.6 L1301.0,537.0 L1303.8,548.0 L1307.3,531.8 L1310.0,540.3 L1313.5,548.0 L1317.0,510.0 L1319.7,535.0 L1323.2,507.4 L1326.0,498.0 L1329.4,525.5 L1332.2,474.5 L1334.9,446.2 L1337.7,582.1 L1340.5,566.5 L1343.9,632.2 L1346.7,627.1 L1350.2,640.9 L1353.6,642.6 L1356.4,490.2 L1359.9,658.2 L1362.6,628.8 L1366.1,585.5 L1369.6,599.4 L1372.3,608.0 L1375.1,577.6 L1377.9,635.7 L1381.3,727.4 L1384.1,673.8 L1386.9,666.9 L1390.3,684.2 L1394.5,653.0 L1397.9,623.6 L1400.0,639.2 L1404.2,602.8 L1409.0,521.5 L1412.5,550.9 L1415.2,552.7 L1420.8,518.1 L1424.2,468.7 L1427.0,470.0 L1430.4,498.0 L1433.2,493.7 L1435.3,523.0 L1438.8,580.3 L1442.2,592.5 L1445.7,566.5 L1448.4,514.6 L1451.9,576.9 L1455.4,552.0 L1458.1,546.4 L1460.9,546.4 L1464.4,672.0 L1467.1,663.4 L1469.9,710.1 L1473.4,557.9 L1476.8,649.6 L1479.6,609.8 L1483.0,554.4 L1486.5,587.3 L1489.3,554.4 L1492.7,582.1 L1495.5,582.1 L1501.0,554.4 L1504.5,528.4 L1507.3,538.8 L1510.0,540.6 L1513.5,412.2 L1517.0,382.8 L1519.7,405.3 L1522.5,396.7 L1526.0,358.6 L1528.7,381.1 L1532.2,378.3 L1537.7,384.6 L1541.2,353.4 L1543.9,349.3 L1546.7,353.4 L1550.9,374.2 L1553.6,367.3 L1556.4,370.0 L1559.2,382.8 L1560.9,300.0 L1562.3,136.7 L1565.7,131.5 L1569.2,13.8 L1574.7,145.3 L1578.2,64.0 L1584.4,224.9 L1587.9,256.1 L1591.0,308.4 L1596.5,287.7 L1600.0,306.7 L1602.8,311.9 L1605.5,287.7 L1609.0,374.2 L1612.5,379.4 L1615.2,377.6 L1618.0,379.4 L1621.5,340.3 L1624.2,341.3 L1627.7,381.1 L1630.4,439.9 L1633.2,445.1 L1636.7,445.1 L1639.4,408.8 L1642.2,420.9 L1645.0,422.6 L1648.4,521.9 L1651.9,484.9 L1655.4,471.1 L1658.1,478.0 L1664.4,347.2 L1667.8,391.5 L1671.3,439.9 L1674.0,464.2 L1677.5,483.2 L1680.3,484.9 L1683.0,490.1 L1685.8,498.8 L1688.6,494.6 L1692.0,495.0 L1695.5,555.0 L1698.3,586.0 L1701.0,620.0 L1704.5,523.8 L1707.3,510.0 L1710.7,522.5 L1714.2,525.0 L1719.0,511.7 L1722.5,477.2 L1726.0,487.0 L1729.4,523.0 L1732.2,443.8 L1734.9,435.7 L1737.7,476.7 L1741.2,472.3 L1744.6,444.6 L1747.4,464.6 L1750.2,439.9 L1756.4,281.2 L1762.6,300.0 L1768.9,284.0 L1775.1,152.2 L1777.9,136.7 L1781.3,149.5 L1784.1,145.3 L1787.5,106.6 L1793.1,169.6 L1796.5,235.3 L1799.3,234.6 L1805.5,257.8 L1809.0,220.8 L1811.8,267.1 L1814.5,273.4 L1818.0,278.5 L1820.8,363.8 L1824.2,433.0 L1827.3,471.8 L1830.4,433.0 L1833.9,365.5 L1836.7,407.1 L1839.4,398.4 L1842.2,332.7 L1845.7,318.8 L1848.4,256.1 L1851.9,276.8 L1855.4,296.9 L1858.1,205.9 L1860.9,190.3 L1863.7,276.8 L1866.4,336.1 L1869.9,353.4 L1873.4,344.8 L1879.6,469.0 L1883.0,395.0 L1885.8,431.0 L1889.3,272.0 L1892.7,305.0 L1894.8,318.8 L1898.3,438.0 L1901.7,377.6 L1904.5,412.2 L1907.3,415.7 L1910.3,459.4 L1914.9,461.0 L1919.7,486.0 L1922.5,482.4 L1925.3,454.2 L1928.7,497.0 L1931.8,496.0 L1934.9,507.0 L1938.0,500.0 L1943.9,497.5 L1947.4,486.0 L1950.9,459.0 L1953.6,384.6 L1957.8,405.3 L1961.9,438.2 L1965.4,446.9 L1968.9,422.6 L1971.6,431.3 L1974.8,465.5 L1977.9,463.7 L1981.0,469.8 L1984.8,531.5 L1988.2,535.5 L1991.0,534.6 L1993.8,606.9 L1996.5,551.5 L2000.0,553.0 L2002.8,518.4 L2005.5,492.5 L2009.0,521.2 L2012.5,460.0 L2015.2,419.9 L2018.7,415.7 L2021.5,425.4 L2024.2,420.9 L2027.0,379.4 L2030.4,446.9 L2033.2,425.4 L2036.7,460.0 L2039.4,615.3 L2042.9,637.8 L2045.7,506.3 L2048.4,482.0 L2051.9,512.0 L2055.4,551.3 L2058.1,573.8 L2061.6,584.2 L2064.4,561.7 L2067.8,525.4 L2070.6,525.4 L2073.4,551.3 L2076.8,570.3 L2080.3,547.9 L2083.0,525.4 L2085.8,521.9 L2088.6,459.0 L2092.0,469.3 L2095.5,517.0 L2098.3,537.5 L2101.7,561.7 L2104.5,544.4 L2110.0,513.0 L2112.8,587.6 L2116.3,685.2 L2119.7,620.5 L2122.5,648.2 L2126.6,573.8 L2129.4,580.7 L2132.2,515.7 L2134.9,523.6 L2138.4,572.1 L2141.2,563.4 L2144.6,618.8 L2147.4,648.2 L2150.2,611.9 L2153.6,634.4 L2156.4,656.9 L2159.9,603.2 L2162.6,615.3 L2166.1,679.3 L2168.9,686.3 L2171.6,674.2 L2175.1,601.5 L2177.9,540.9 L2181.3,530.6 L2184.1,499.4 L2186.9,496.0 L2190.3,479.7 L2193.8,489.0 L2196.5,482.1 L2199.3,550.0 L2202.8,422.6 L2205.5,384.6 L2208.3,397.7 L2211.8,450.3 L2218.0,427.8 L2220.1,391.5 L2224.2,323.0 L2227.0,322.3 L2230.4,363.8 L2233.9,420.9 L2236.7,398.4 L2240.8,426.1 L2242.9,460.0 L2245.7,457.2 L2248.4,511.0 L2251.9,508.5 L2255.4,445.1 L2258.1,446.2 L2261.6,437.2 L2264.4,439.2 L2267.8,481.5 L2273.4,508.0 L2276.8,495.3 L2279.6,486.6 L2284.0,484.0 L2287.2,471.8 L2290.0,477.3 L2293.4,464.2 L2296.9,415.7 L2300.3,412.2 L2304.5,391.5 L2310.0,360.3 L2312.8,381.1 L2316.3,439.9 L2319.7,448.6 L2323.2,448.6 L2326.6,428.9 L2328.7,446.9 L2331.5,351.7 L2334.3,349.3 L2337.7,370.0 L2341.2,385.3 L2344.6,386.3 L2347.4,401.9 L2350.9,460.7 L2352.9,533.2 L2356.4,512.0 L2359.9,523.3 L2362.6,521.2 L2366.1,523.5 L2368.8,575.6 L2372.3,515.0 L2375.1,490.0 L2377.9,496.0 L2380.0,560.0 L2384.5,621.0 L2387.0,680.0 L2390.0,761.0 L2393.0,770.0" fill="none" stroke="#5275ff" stroke-width="2" stroke-linejoin="round"/>
<line x1="2426.5" y1="9" x2="2426.5" y2="773" stroke="#5275ff" stroke-width="1.1"/>
<line x1="2493.3" y1="9" x2="2493.3" y2="773" stroke="#26c953" stroke-width="1.1"/>
<text x="2435" y="13.0" style="font-family:'Liberation Sans',sans-serif;font-size:13px;fill:#9ca2b7">35.98%</text>
<text x="2435" y="125.5" style="font-family:'Liberation Sans',sans-serif;font-size:13px;fill:#9ca2b7">26.99%</text>
<text x="2435" y="238.1" style="font-family:'Liberation Sans',sans-serif;font-size:13px;fill:#9ca2b7">17.99%</text>
<text x="2435" y="350.6" style="font-family:'Liberation Sans',sans-serif;font-size:13px;fill:#9ca2b7">8.995%</text>
<text x="2435" y="463.1" style="font-family:'Liberation Sans',sans-serif;font-size:13px;fill:#9ca2b7">0%</text>
<text x="2435" y="567.4" style="font-family:'Liberation Sans',sans-serif;font-size:13px;fill:#9ca2b7">-8.341%</text>
<text x="2435" y="671.9" style="font-family:'Liberation Sans',sans-serif;font-size:13px;fill:#9ca2b7">-16.68%</text>
<text x="2501" y="12.9" style="font-family:'Liberation Sans',sans-serif;font-size:13px;fill:#9ca2b7">4879</text>
<text x="2501" y="108.4" style="font-family:'Liberation Sans',sans-serif;font-size:13px;fill:#9ca2b7">4451</text>
<text x="2501" y="203.9" style="font-family:'Liberation Sans',sans-serif;font-size:13px;fill:#9ca2b7">4024</text>
<text x="2501" y="299.4" style="font-family:'Liberation Sans',sans-serif;font-size:13px;fill:#9ca2b7">3596</text>
<text x="2501" y="394.9" style="font-family:'Liberation Sans',sans-serif;font-size:13px;fill:#9ca2b7">3168</text>
<text x="2501" y="490.4" style="font-family:'Liberation Sans',sans-serif;font-size:13px;fill:#9ca2b7">2740</text>
<text x="2501" y="585.9" style="font-family:'Liberation Sans',sans-serif;font-size:13px;fill:#9ca2b7">2313</text>
<text x="2501" y="681.4" style="font-family:'Liberation Sans',sans-serif;font-size:13px;fill:#9ca2b7">1885</text>
<text x="2501" y="776.9" style="font-family:'Liberation Sans',sans-serif;font-size:13px;fill:#9ca2b7">1457</text>
<rect x="2431" y="761.5" width="57" height="16.5" fill="#5275ff"/>
<text x="2459.5" y="774.3" text-anchor="middle" style="font-family:'Liberation Sans',sans-serif;font-size:13px;fill:#fff">-24.77%</text>
<rect x="2497" y="599" width="38" height="17" fill="#26c953"/>
<text x="2516" y="612.3" text-anchor="middle" style="font-family:'Liberation Sans',sans-serif;font-size:13px;font-weight:bold;fill:#fff">2197</text>
<text x="7.5" y="791" style="font-family:'Liberation Sans',sans-serif;font-size:13px;fill:#9ca2b7">17 Dec 23</text>
<text x="200" y="791" text-anchor="middle" style="font-family:'Liberation Sans',sans-serif;font-size:13px;fill:#9ca2b7">20 Feb 24</text>
<text x="400" y="791" text-anchor="middle" style="font-family:'Liberation Sans',sans-serif;font-size:13px;fill:#9ca2b7">25 Apr 24</text>
<text x="600" y="791" text-anchor="middle" style="font-family:'Liberation Sans',sans-serif;font-size:13px;fill:#9ca2b7">29 Jun 24</text>
<text x="800" y="791" text-anchor="middle" style="font-family:'Liberation Sans',sans-serif;font-size:13px;fill:#9ca2b7">02 Sep 24</text>
<text x="1000" y="791" text-anchor="middle" style="font-family:'Liberation Sans',sans-serif;font-size:13px;fill:#9ca2b7">06 Nov 24</text>
<text x="1200" y="791" text-anchor="middle" style="font-family:'Liberation Sans',sans-serif;font-size:13px;fill:#9ca2b7">10 Jan 25</text>
<text x="1400" y="791" text-anchor="middle" style="font-family:'Liberation Sans',sans-serif;font-size:13px;fill:#9ca2b7">16 Mar 25</text>
<text x="1600" y="791" text-anchor="middle" style="font-family:'Liberation Sans',sans-serif;font-size:13px;fill:#9ca2b7">20 May 25</text>
<text x="1800" y="791" text-anchor="middle" style="font-family:'Liberation Sans',sans-serif;font-size:13px;fill:#9ca2b7">24 Jul 25</text>
<text x="2000" y="791" text-anchor="middle" style="font-family:'Liberation Sans',sans-serif;font-size:13px;fill:#9ca2b7">27 Sep 25</text>
<text x="2200" y="791" text-anchor="middle" style="font-family:'Liberation Sans',sans-serif;font-size:13px;fill:#9ca2b7">01 Dec 25</text>
<text x="2390" y="791" style="font-family:'Liberation Sans',sans-serif;font-size:13px;fill:#9ca2b7">02 Feb 26</text>
<rect x="978" y="828" width="12" height="12" fill="#ffc83f"/>
<text x="997.5" y="840" textLength="191.5" lengthAdjust="spacing" style="font-family:'Liberation Sans',sans-serif;font-size:18px;fill:#20232b">MVRV Ratio (7d) (ETH)</text>
<rect x="1216" y="828" width="12" height="12" fill="#5275ff"/>
<text x="1235" y="840" textLength="205" lengthAdjust="spacing" style="font-family:'Liberation Sans',sans-serif;font-size:18px;fill:#20232b">MVRV Ratio (30d) (ETH)</text>
<rect x="1467" y="828" width="12" height="12" fill="#26c953"/>
<text x="1486" y="840" textLength="96" lengthAdjust="spacing" style="font-family:'Liberation Sans',sans-serif;font-size:18px;fill:#20232b">Price (ETH)</text>
</svg>
</body></html>
